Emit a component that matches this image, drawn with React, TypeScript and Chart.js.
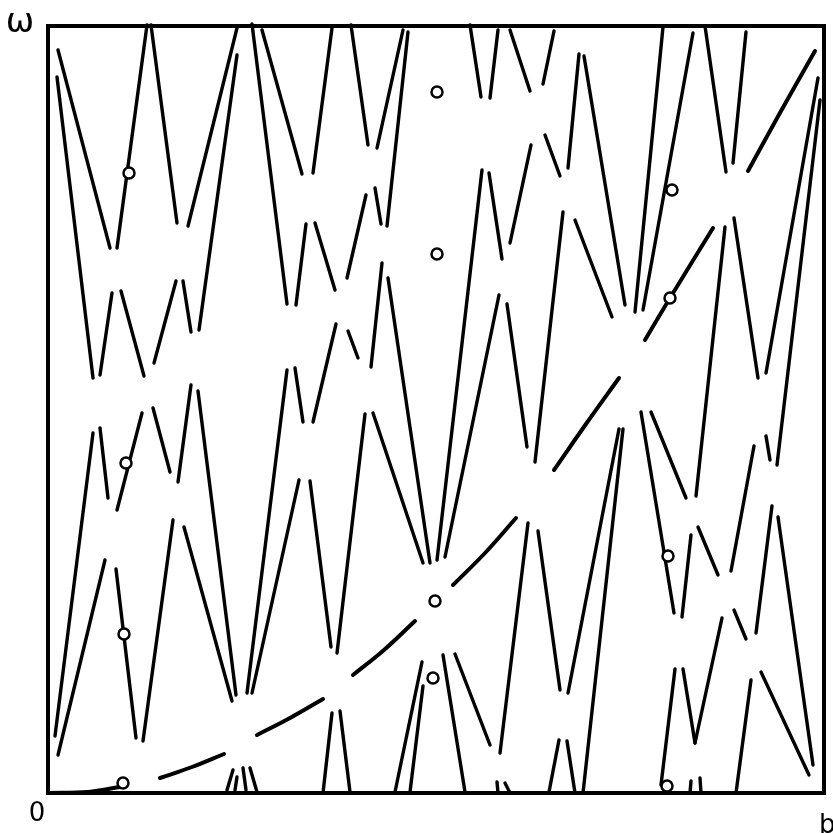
import React, { useEffect, useRef } from "react";
import { Chart, registerables } from "chart.js";

Chart.register(...registerables);

type Pt = [number, number];
type Stroke = Pt[];

// Axis extents (0 .. b horizontally, 0 .. ω vertically), in reading units
const X_MAX = 776;
const Y_MAX = 767;

// Axis labels: origin, right end of the horizontal axis, top of the vertical axis
const axisLabels = ["0", "b", "ω"];

// Zig-zag strokes, left part of the diagram
const leftStrokes: Stroke[] = [
  [[10, 743], [62, 545]],
  [[9, 716], [45, 415]],
  [[69, 545], [99, 768]],
  [[103, 768], [129, 570]],
  [[140, 567], [189, 765]],
  [[151, 463], [189, 738]],
  [[52, 418], [64, 500]],
  [[73, 502], [96, 417]],
  [[106, 430], [128, 512]],
  [[135, 512], [143, 461]],
  [[45, 360], [7, 57]],
  [[52, 365], [60, 295]],
  [[69, 283], [94, 380]],
  [[105, 385], [122, 321]],
  [[130, 311], [143, 408]],
  [[150, 402], [188, 98]],
  [[57, 233], [10, 38]],
  [[68, 224], [88, 55]],
  [[125, 273], [95, 52]],
  [[136, 266], [184, 92]],
];

// Zig-zag strokes, centre-left part
const centreStrokes: Stroke[] = [
  [[239, 423], [199, 100]],
  [[251, 313], [204, 100]],
  [[262, 312], [283, 146]],
  [[317, 379], [289, 140]],
  [[325, 380], [375, 230]],
  [[204, 769], [239, 489]],
  [[214, 763], [254, 619]],
  [[265, 620], [284, 765]],
  [[303, 768], [320, 648]],
  [[329, 645], [355, 763]],
  [[339, 567], [360, 761]],
  [[327, 605], [333, 569]],
  [[299, 515], [318, 598]],
  [[248, 488], [258, 569]],
  [[267, 570], [287, 503]],
  [[288, 469], [265, 371]],
  [[300, 462], [310, 435]],
  [[323, 426], [334, 530]],
  [[340, 515], [382, 230]],
  [[247, 425], [255, 371]],
];

// Zig-zag strokes, centre-right part
const midStrokes: Stroke[] = [
  [[422, 768], [433, 696]],
  [[442, 695], [450, 763]],
  [[462, 763], [482, 702]],
  [[495, 709], [506, 762]],
  [[434, 623], [389, 233]],
  [[441, 620], [454, 534]],
  [[462, 550], [483, 648]],
  [[497, 658], [512, 617]],
  [[520, 625], [531, 739]],
  [[536, 737], [577, 488]],
  [[515, 581], [487, 331]],
  [[527, 573], [564, 476]],
  [[451, 498], [397, 236]],
  [[459, 489], [479, 346]],
  [[587, 481], [615, 766]],
  [[595, 483], [645, 760]],
  [[395, 138], [417, 1]],
  [[407, 139], [442, 48]],
  [[452, 40], [480, 270]],
  [[490, 262], [512, 103]],
  [[520, 100], [571, 364]],
  [[535, 0], [575, 364]],
];

// Zig-zag strokes, right part
const rightStrokes: Stroke[] = [
  [[593, 381], [626, 180]],
  [[603, 381], [638, 295]],
  [[657, 767], [678, 621]],
  [[685, 630], [698, 761]],
  [[677, 566], [648, 297]],
  [[686, 575], [710, 415]],
  [[718, 420], [770, 715]],
  [[772, 693], [729, 328]],
  [[718, 357], [722, 333]],
  [[683, 222], [706, 347]],
  [[708, 160], [724, 287]],
  [[730, 276], [765, 28]],
  [[634, 176], [643, 258]],
  [[650, 266], [670, 218]],
  [[686, 183], [698, 154]],
  [[674, 175], [647, 50]],
  [[635, 124], [647, 50]],
  [[627, 124], [613, 8]],
  [[703, 113], [688, 0]],
  [[713, 121], [761, 18]],
];

// Strokes rising from the horizontal axis
const baseStrokes: Stroke[] = [
  [[179, 3], [185, 23]],
  [[187, 3], [189, 16]],
  [[195, 25], [198, 3]],
  [[202, 25], [209, 1]],
  [[275, 0], [284, 80]],
  [[292, 82], [302, 1]],
  [[347, 1], [374, 131]],
  [[362, 1], [375, 107]],
  [[501, 1], [511, 53]],
  [[519, 52], [527, 0]],
  [[449, 11], [450, 0]],
  [[457, 10], [462, 0]],
  [[643, 12], [642, 0]],
  [[652, 15], [653, 0]],
];

// Dashed rising curve, one entry per dash
const curveDashes: Stroke[] = [
  [[0, 0], [40, 1], [72, 6]],
  [[112, 15], [144, 26], [176, 39]],
  [[209, 58], [242, 75], [275, 94]],
  [[305, 118], [336, 143], [367, 172]],
  [[405, 208], [437, 240], [468, 275]],
  [[506, 323], [538, 369], [571, 415]],
  [[597, 453], [622, 495], [665, 565]],
  [[700, 622], [733, 682], [767, 742]],
];

// Small open circles
const circleX = [81, 389, 389, 624, 622, 78, 76, 387, 385, 620, 75, 619];
const circleY = [620, 701, 539, 603, 495, 330, 159, 192, 115, 237, 10, 7];

const framePlugin = {
  id: "frame",
  beforeDatasetsDraw(chart: any) {
    const { ctx, chartArea: a } = chart;
    ctx.save();
    ctx.strokeStyle = "#000";
    ctx.lineWidth = 4;
    ctx.strokeRect(a.left, a.top, a.right - a.left, a.bottom - a.top);
    ctx.restore();
  },
};

const labelPlugin = {
  id: "cornerLabels",
  afterDraw(chart: any) {
    const { ctx, chartArea: a } = chart;
    ctx.save();
    ctx.fillStyle = "#000";
    ctx.textAlign = "center";
    ctx.textBaseline = "alphabetic";
    ctx.font = "26px 'DejaVu Sans', sans-serif";
    ctx.fillText(axisLabels[0], a.left - 11, a.bottom + 28);
    ctx.textAlign = "left";
    ctx.fillText(axisLabels[1], a.right - 5, a.bottom + 40);
    ctx.textAlign = "center";
    ctx.font = "34px 'DejaVu Sans', sans-serif";
    ctx.fillText(axisLabels[2], a.left - 28, a.top + 6);
    ctx.restore();
  },
};

export default function App() {
  const ref = useRef<HTMLCanvasElement | null>(null);

  useEffect(() => {
    if (!ref.current) return;
    const toData = (s: Stroke) => s.map(([x, y]) => ({ x, y }));
    const datasets: any[] = [];
    [leftStrokes, centreStrokes, midStrokes, rightStrokes, baseStrokes].forEach((group) =>
      group.forEach((s) =>
        datasets.push({
          data: toData(s),
          showLine: true,
          borderColor: "#000",
          borderWidth: 3.4,
          borderCapStyle: "round",
          pointRadius: 0,
          pointHoverRadius: 0,
          fill: false,
          clip: false,
          order: 2,
        })
      )
    );
    curveDashes.forEach((s) =>
      datasets.push({
        data: toData(s),
        showLine: true,
        borderColor: "#000",
        borderWidth: 4,
        borderCapStyle: "round",
        tension: 0.4,
        pointRadius: 0,
        pointHoverRadius: 0,
        fill: false,
        clip: false,
        order: 1,
      })
    );
    datasets.push({
      data: circleX.map((x, i) => ({ x, y: circleY[i] })),
      showLine: false,
      pointRadius: 5.5,
      pointHoverRadius: 5.5,
      pointBorderWidth: 2.5,
      pointBackgroundColor: "#fff",
      pointBorderColor: "#000",
      clip: false,
      order: 0,
    });

    const chart = new Chart(ref.current, {
      type: "scatter",
      data: { datasets },
      options: {
        responsive: false,
        animation: false,
        devicePixelRatio: 1,
        layout: { padding: { left: 48, right: 9, top: 26, bottom: 40 } },
        scales: {
          x: { type: "linear", min: 0, max: X_MAX, display: false },
          y: { type: "linear", min: 0, max: Y_MAX, display: false },
        },
        plugins: { legend: { display: false }, tooltip: { enabled: false } },
        events: [],
      },
      plugins: [framePlugin, labelPlugin],
    } as any);
    return () => chart.destroy();
  }, []);

  return (
    <div style={{ position: "fixed", left: 0, top: 0, width: 833, height: 833, background: "#fff" }}>
      <canvas ref={ref} width={833} height={833} style={{ display: "block" }} />
    </div>
  );
}
